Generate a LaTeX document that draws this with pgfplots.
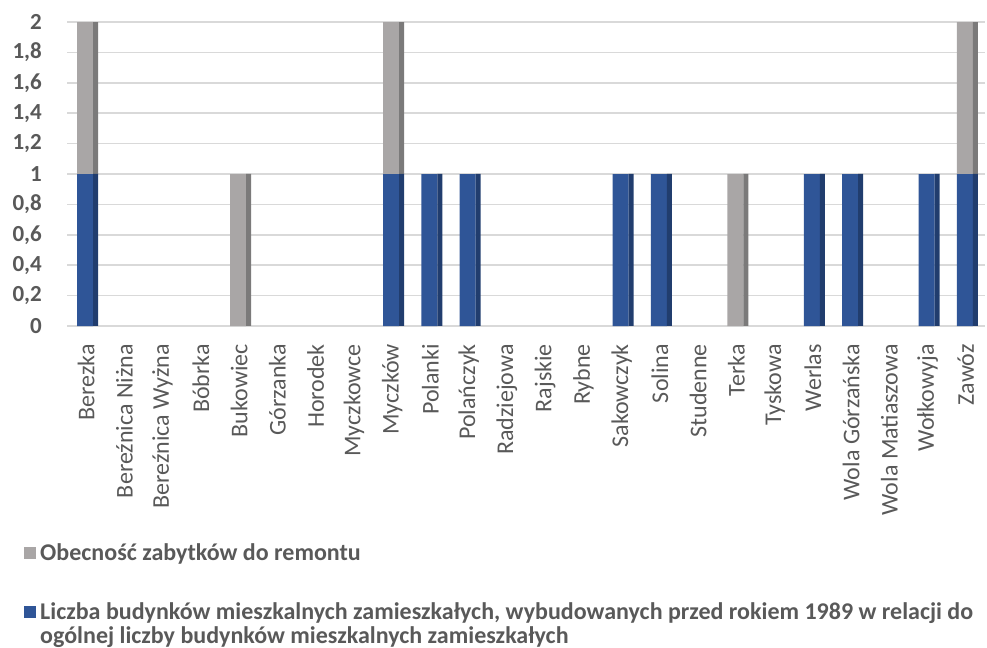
\documentclass[border=0pt]{standalone}
\usepackage{fontspec}
\setmainfont{Carlito}
\usepackage{pgfplots}
\usepackage{pgfplotstable}
\pgfplotsset{compat=1.18}
\definecolor{cblue}{HTML}{2F5597}
\definecolor{cblueside}{HTML}{213D6E}
\definecolor{cgray}{HTML}{A9A6A6}
\definecolor{cgrayside}{HTML}{7B7A7A}
\definecolor{tgray}{HTML}{595959}
\definecolor{gridc}{HTML}{D9D9D9}
\pgfplotstableread{
x blue gray
0 1 1
1 0 0
2 0 0
3 0 0
4 0 1
5 0 0
6 0 0
7 0 0
8 1 1
9 1 0
10 1 0
11 0 0
12 0 0
13 0 0
14 1 0
15 1 0
16 0 0
17 0 1
18 0 0
19 1 0
20 1 0
21 0 0
22 1 0
23 1 1
}\datatable
\pgfplotsset{base/.style={
  scale only axis, clip=false,
  width=918pt, height=304pt,
  xmin=-0.5, xmax=23.5, ymin=0, ymax=2,
  ybar stacked}}
\begin{document}
\begin{tikzpicture}
\begin{axis}[base,
  bar width=16pt, bar shift=-1pt,
  xtick={0,...,23},
  xticklabels={Berezka,Bereźnica Niżna,Bereźnica Wyżna,Bóbrka,Bukowiec,Górzanka,Horodek,Myczkowce,Myczków,Polanki,Polańczyk,Radziejowa,Rajskie,Rybne,Sakowczyk,Solina,Studenne,Terka,Tyskowa,Werlas,Wola Górzańska,Wola Matiaszowa,Wołkowyja,Zawóz},
  ytick={0,0.2,0.4,0.6,0.8,1,1.2,1.4,1.6,1.8,2},
  ymajorgrids, grid style={gridc, line width=1.5pt},
  axis line style={draw=none}, major tick length=0pt,
  /pgf/number format/use comma,
  /pgf/number format/fixed,
  /pgf/number format/assume math mode=true,
  xticklabel style={rotate=90, anchor=east, inner sep=0pt, text=tgray, font=\fontsize{24}{28}\selectfont},
  xticklabel shift=18pt,
  yticklabel style={anchor=east, inner sep=0pt, text=tgray, font=\bfseries\fontsize{23}{27}\selectfont},
  yticklabel shift=25pt,
  reverse legend,
  legend style={at={(-0.0468,-0.71)}, anchor=north west, draw=none, fill=none,
    font=\bfseries\fontsize{24}{24}\selectfont, text=tgray,
    cells={anchor=west, align=left}, row sep=36pt, inner sep=0pt,
    nodes={inner xsep=4pt}},
]
\addplot[fill=cblue, draw=none,
  legend image code/.code={\fill[cblue] (0pt,6pt) rectangle (12pt,18pt); \path[fill=none,draw=none] (0pt,-18pt) rectangle (12pt,18pt);}]
  table[x=x, y=blue] {\datatable};
\addlegendentry{Liczba budynków mieszkalnych zamieszkałych, wybudowanych przed rokiem 1989 w relacji do\\ogólnej liczby budynków mieszkalnych zamieszkałych}
\addplot[fill=cgray, draw=none,
  legend image code/.code={\fill[cgray] (0pt,-6pt) rectangle (12pt,6pt);}]
  table[x=x, y=gray] {\datatable};
\addlegendentry{Obecność zabytków do remontu}
\path (rel axis cs:-0.073,1.0724) rectangle (rel axis cs:1.0022,-1.059);
\end{axis}
\begin{axis}[base, hide axis, bar width=5pt, bar shift=9.5pt]
\addplot[fill=cblueside, draw=none] table[x=x, y=blue] {\datatable};
\addplot[fill=cgrayside, draw=none] table[x=x, y=gray] {\datatable};
\end{axis}
\end{tikzpicture}
\end{document}
